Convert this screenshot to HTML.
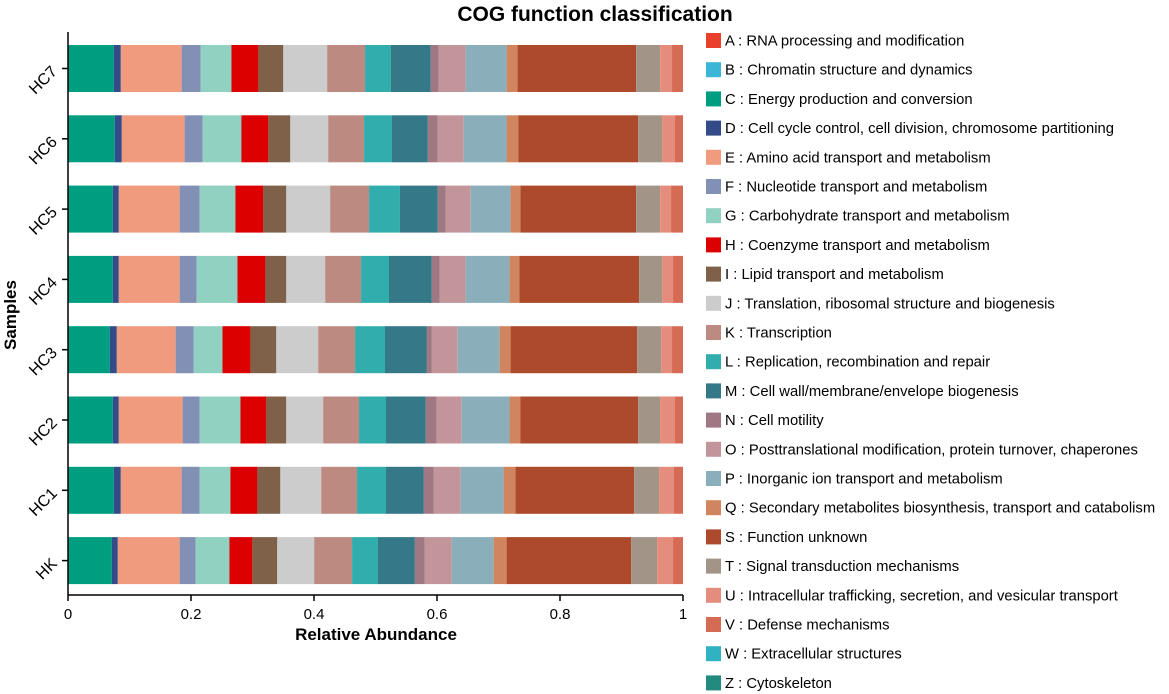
<!DOCTYPE html>
<html><head><meta charset="utf-8"><style>
body{margin:0;background:#fff;}
svg{display:block;font-family:"Liberation Sans",Arial,sans-serif;}
</style></head><body>
<svg id="chart" width="1169" height="694" viewBox="0 0 1169 694" xmlns="http://www.w3.org/2000/svg">
<text x="595" y="21" text-anchor="middle" font-size="21" font-weight="bold">COG function classification</text>
<g id="bars"></g>
<g id="axes"></g>
<g id="legend"></g>
<text x="376" y="640" text-anchor="middle" font-size="17" font-weight="bold">Relative Abundance</text>
<text transform="translate(16,315) rotate(-90)" text-anchor="middle" font-size="17" font-weight="bold">Samples</text>
</svg>
<script>
const samples = ["HC7","HC6","HC5","HC4","HC3","HC2","HC1","HK"];
const categories = ["A","B","C","D","E","F","G","H","I","J","K","L","M","N","O","P","Q","S","T","U","V","W","Z"];
const catLabels = ["RNA processing and modification","Chromatin structure and dynamics","Energy production and conversion","Cell cycle control, cell division, chromosome partitioning","Amino acid transport and metabolism","Nucleotide transport and metabolism","Carbohydrate transport and metabolism","Coenzyme transport and metabolism","Lipid transport and metabolism","Translation, ribosomal structure and biogenesis","Transcription","Replication, recombination and repair","Cell wall/membrane/envelope biogenesis","Cell motility","Posttranslational modification, protein turnover, chaperones","Inorganic ion transport and metabolism","Secondary metabolites biosynthesis, transport and catabolism","Function unknown","Signal transduction mechanisms","Intracellular trafficking, secretion, and vesicular transport","Defense mechanisms","Extracellular structures","Cytoskeleton"];
const colors = ["#e8402a","#3cb6d6","#009e80","#344b8a","#f09a7e","#8390b5","#91d1c2","#dc0000","#7e6148","#cccccc","#bc8a81","#31adad","#357887","#a07884","#c19599","#8aafbb","#d0855f","#ad4a2b","#a29486","#e58d7c","#d56a55","#2fb3c3","#238a80"];
// order A,B,C,...,V,W,Z (relative abundance, %)
const valsHC7 = [0,0,7.46,1.13,9.89,3.08,5.02,4.38,4.05,7.13,6.16,4.21,6.48,1.30,4.38,6.65,1.78,19.29,3.89,1.94,1.78,0,0];
const valsHC6 = [0,0,7.62,1.13,10.21,2.92,6.32,4.38,3.57,6.16,5.83,4.54,5.83,1.62,4.21,6.97,1.94,19.45,3.89,2.11,1.30,0,0];
const valsHC5 = [0,0,7.29,0.97,9.89,3.24,5.83,4.54,3.73,7.13,6.32,5.02,6.16,1.30,4.05,6.48,1.62,18.80,3.89,1.78,1.94,0,0];
const valsHC4 = [0,0,7.29,0.97,9.89,2.76,6.65,4.54,3.40,6.32,5.83,4.54,6.97,1.30,4.21,7.13,1.62,19.45,3.73,1.78,1.62,0,0];
const valsHC3 = [0,0,6.81,1.13,9.56,2.92,4.70,4.54,4.21,6.81,6.00,4.86,6.81,0.81,4.21,6.81,1.78,20.58,3.89,1.78,1.78,0,0];
const valsHC2 = [0,0,7.29,0.97,10.37,2.76,6.65,4.21,3.24,6.00,5.83,4.38,6.48,1.78,4.05,7.78,1.78,19.12,3.57,2.43,1.30,0,0];
const valsHC1 = [0,0,7.46,1.13,9.89,2.92,5.02,4.38,3.73,6.65,5.83,4.70,6.16,1.62,4.38,6.97,1.94,19.29,4.05,2.43,1.46,0,0];
const valsHK  = [0,0,7.13,0.97,10.05,2.59,5.51,3.73,4.05,6.00,6.16,4.21,6.00,1.62,4.38,6.81,2.11,20.26,4.21,2.59,1.62,0,0];
const allVals = [valsHC7,valsHC6,valsHC5,valsHC4,valsHC3,valsHC2,valsHC1,valsHK];
const xTicks = [0,0.2,0.4,0.6,0.8,1];
const xTickLabels = ["0","0.2","0.4","0.6","0.8","1"];

const NS="http://www.w3.org/2000/svg";
const X0=68, XW=615, Y0=68.5, YSTEP=70.3, BH=47, AXY=595;
const xScale = v => X0 + v*XW;
const yScale = i => Y0 + i*YSTEP;
function mk(tag, attrs, parent){const e=document.createElementNS(NS,tag);for(const k in attrs)e.setAttribute(k,attrs[k]);parent.appendChild(e);return e;}
const gb=document.getElementById('bars'), ga=document.getElementById('axes'), gl=document.getElementById('legend');
samples.forEach((s,i)=>{
  const vals=allVals[i]; const tot=vals.reduce((a,b)=>a+b,0);
  let cum=0;
  vals.forEach((v,j)=>{
    if(v<=0) return;
    const r=mk('rect',{x:xScale(cum/tot),y:yScale(i)-BH/2,width:xScale(v/tot)-X0,height:BH,fill:colors[j]},gb);
    
    
    cum+=v;
  });
  const t=mk('line',{x1:X0-6,x2:X0,y1:yScale(i),y2:yScale(i),stroke:'#000','stroke-width':1.5},ga);
  
  
  const tl=mk('text',{transform:`translate(${X0-10},${yScale(i)+4}) rotate(-45)`,'text-anchor':'end','font-size':16},ga);
  tl.textContent=s;
  
  
});
const ya=mk('line',{x1:X0,x2:X0,y1:32,y2:AXY,stroke:'#000','stroke-width':1.5},ga);


const xa=mk('line',{x1:X0,x2:xScale(1),y1:AXY,y2:AXY,stroke:'#000','stroke-width':1.5},ga);


xTicks.forEach((v,k)=>{
  const t=mk('line',{x1:xScale(v),x2:xScale(v),y1:AXY,y2:AXY+6,stroke:'#000','stroke-width':1.5},ga);
  
  
  const tl=mk('text',{x:xScale(v),y:AXY+24,'text-anchor':'middle','font-size':15},ga);
  tl.textContent=xTickLabels[k];
  
  
});
categories.forEach((c,j)=>{
  const y=40.5+j*29.2;
  const sw=mk('rect',{x:706,y:y-7.5,width:15,height:15,fill:colors[j]},gl);
  
  
  const t=mk('text',{x:725,y:y+5,'font-size':14.8},gl);
  t.textContent=c+' : '+catLabels[j];
  
  
});
</script>
</body></html>
